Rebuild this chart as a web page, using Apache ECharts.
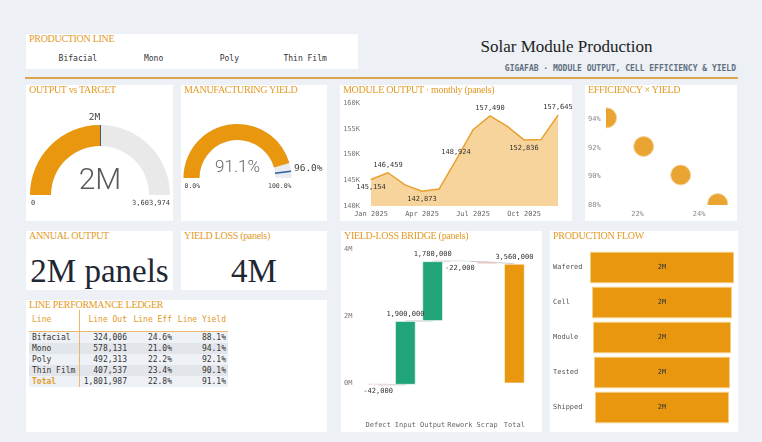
<!DOCTYPE html>
<html>
<head>
<meta charset="utf-8">
<script src="https://cdn.jsdelivr.net/npm/echarts@6/dist/echarts.min.js"></script>
<style>
  html, body { margin: 0; padding: 0; }
  body { width: 762px; height: 442px; background: #edf0f4; position: relative; overflow: hidden; font-family: 'DejaVu Sans Mono', monospace; }
  .card { position: absolute; background: #fff; }
  .ttl { position: absolute; left: 3px; top: -1px; font: 10px/12px 'Liberation Serif', serif; color: #e39a26; letter-spacing: -0.3px; white-space: nowrap; z-index: 2; }
  .chart { position: absolute; left: 0; top: 0; right: 0; bottom: 0; }
  #main-title { position: absolute; left: 380px; width: 373px; top: 37px; text-align: center; font: 17px/20px 'Liberation Serif', serif; color: #222; }
  #sub-title { position: absolute; right: 26px; top: 64px; font: bold 8px/10px 'DejaVu Sans Mono', monospace; color: #5f6f80; }
  #rule { position: absolute; left: 25px; top: 77px; width: 713px; height: 1.5px; background: #dba64a; }
  #pl-items { position: absolute; left: 14px; width: 303px; top: 20px; display: flex; }
  #pl-items span { flex: 1; text-align: center; font: 8px/10px 'DejaVu Sans Mono', monospace; color: #333; }
  .big { position: absolute; left: 0; right: 0; top: 20px; text-align: center; font: 33px/40px 'Liberation Serif', serif; color: #1e2833; }
  #ledger { position: absolute; left: 3px; top: 10px; border-collapse: collapse; table-layout: fixed; font: 8px/11px 'DejaVu Sans Mono', monospace; color: #333; }
  #ledger th { color: #e39a26; font-weight: normal; height: 18px; padding: 0 2px 3px 0; text-align: right; border-bottom: 1px solid #ebb865; vertical-align: middle; }
  #ledger td { height: 11px; line-height: 11px; padding: 0 2px 0 0; text-align: right; white-space: nowrap; }
  #ledger th:first-child, #ledger td:first-child { text-align: left; padding-left: 3px; border-right: 1px solid #ebb865; }
  #ledger tr:nth-child(odd) td { background: #eef1f5; }
  #ledger tr:nth-child(even) td { background: #e2e5e9; }
  #ledger tr.tot td:first-child { color: #e39a26; font-weight: bold; }
</style>
</head>
<body>

<div class="card" style="left:26px;top:34px;width:332px;height:35px;">
  <div class="ttl">PRODUCTION LINE</div>
  <div id="pl-items"></div>
</div>
<div id="main-title">Solar Module Production</div>
<div id="sub-title">GIGAFAB · MODULE OUTPUT, CELL EFFICIENCY &amp; YIELD</div>
<div id="rule"></div>

<div class="card" style="left:26px;top:85px;width:147px;height:136px;">
  <div id="g1" class="chart"></div><div class="ttl">OUTPUT vs TARGET</div>
</div>
<div class="card" style="left:181px;top:85px;width:146px;height:136px;">
  <div id="g2" class="chart"></div><div class="ttl">MANUFACTURING YIELD</div>
</div>
<div class="card" style="left:340px;top:85px;width:232px;height:136px;">
  <div id="monthly" class="chart"></div><div class="ttl">MODULE OUTPUT · monthly (panels)</div>
</div>
<div class="card" style="left:585px;top:85px;width:152px;height:136px;">
  <div id="scatter" class="chart"></div><div class="ttl">EFFICIENCY × YIELD</div>
</div>

<div class="card" style="left:26px;top:231px;width:147px;height:59px;">
  <div class="ttl">ANNUAL OUTPUT</div><div class="big" id="annual"></div>
</div>
<div class="card" style="left:181px;top:231px;width:146px;height:59px;">
  <div class="ttl">YIELD LOSS (panels)</div><div class="big" id="loss"></div>
</div>
<div class="card" style="left:26px;top:300px;width:301px;height:132px;">
  <div class="ttl">LINE PERFORMANCE LEDGER</div>
  <table id="ledger">
    <colgroup><col style="width:50px"><col style="width:50px"><col style="width:45px"><col style="width:54px"></colgroup>
    <thead><tr><th>Line</th><th>Line Out</th><th>Line Eff</th><th>Line Yield</th></tr></thead>
    <tbody id="ledger-body"></tbody>
  </table>
</div>
<div class="card" style="left:341px;top:231px;width:201px;height:201px;">
  <div id="bridge" class="chart"></div><div class="ttl">YIELD-LOSS BRIDGE (panels)</div>
</div>
<div class="card" style="left:550px;top:231px;width:188px;height:201px;">
  <div id="flow" class="chart"></div><div class="ttl">PRODUCTION FLOW</div>
</div>

<script>
// production lines
const productionLines = ['Bifacial', 'Mono', 'Poly', 'Thin Film'];
const lineOut = [324006, 578131, 492313, 407537];
const lineEff = [24.6, 21.0, 22.2, 23.4];
const lineYield = [88.1, 94.1, 92.1, 90.1];

const outputTarget = 3603974;
const yieldTarget = 96.0;
const yieldLossPanels = 3560000;

// monthly output
const months = ['Jan 2025', 'Feb 2025', 'Mar 2025', 'Apr 2025', 'May 2025', 'Jun 2025',
  'Jul 2025', 'Aug 2025', 'Sep 2025', 'Oct 2025', 'Nov 2025', 'Dec 2025'];
const monthlyOut = [145154, 146459, 144106, 142873, 143300, 148924, 154800, 157490, 155500, 152836, 152900, 157645];

// bridge
const bridgeCats = ['Defect', 'Input', 'Output', 'Rework', 'Scrap', 'Total'];
const bridgeDeltas = [-42000, 1900000, 1780000, -22000, -56000];

// flow
const flowStages = ['Wafered', 'Cell', 'Module', 'Tested', 'Shipped'];
const flowValues = [1936000, 1882000, 1855000, 1828000, 1801987];

const ORANGE = '#e8970f';
const MONO = "'DejaVu Sans Mono', monospace";
// pointer shape that only fills the outer 30% of the radius
const MARK = 'path://M0 0L2 0L2 30L0 30Z M0 100L2 100L0 100Z';

const fmtM = v => Math.round(v / 1e6) + 'M';
const fmtInt = v => v.toLocaleString('en-US');
const sum = a => a.reduce((s, v) => s + v, 0);
const mean = a => sum(a) / a.length;

const totalOut = sum(lineOut);
const avgEff = mean(lineEff);
const avgYield = mean(lineYield);

// html bits
document.getElementById('pl-items').innerHTML = productionLines.map(n => `<span>${n}</span>`).join('');
document.getElementById('annual').textContent = fmtM(totalOut) + ' panels';
document.getElementById('loss').textContent = fmtM(yieldLossPanels);
let rows = productionLines.map((n, i) =>
  `<tr><td>${n}</td><td>${fmtInt(lineOut[i])}</td><td>${lineEff[i].toFixed(1)}%</td><td>${lineYield[i].toFixed(1)}%</td></tr>`);
rows.push(`<tr class="tot"><td>Total</td><td>${fmtInt(totalOut)}</td><td>${avgEff.toFixed(1)}%</td><td>${avgYield.toFixed(1)}%</td></tr>`);
document.getElementById('ledger-body').innerHTML = rows.join('');

const smallText = (x, y, text, align, size) => ({
  type: 'text', x, y,
  style: { text, fontSize: size, fontFamily: MONO, fill: '#444', align, verticalAlign: 'middle' }
});

// gauge: output vs target
const g1c = [74, 110], g1r = 70;
echarts.init(document.getElementById('g1')).setOption({
  animation: false,
  series: [{
    type: 'gauge', center: g1c, radius: g1r, startAngle: 180, endAngle: 0,
    min: 0, max: outputTarget,
    axisLine: { lineStyle: { width: 21, color: [[1, '#e9e9e9']] } },
    progress: { show: true, width: 21, itemStyle: { color: ORANGE } },
    splitLine: { show: false }, axisTick: { show: false }, axisLabel: { show: false },
    pointer: { show: true, icon: MARK, length: '100%', width: 2, itemStyle: { color: '#4b5662' } },
    anchor: { show: false },
    title: { offsetCenter: ['-8%', '-111%'], fontSize: 9.5, fontFamily: MONO, color: '#444' },
    detail: { offsetCenter: [0, '-20%'], fontSize: 30, fontWeight: 300, fontFamily: 'Roboto', color: '#5a5a5a', formatter: v => fmtM(v) },
    data: [{ value: totalOut, name: fmtM(totalOut) }]
  }],
  graphic: [
    smallText(g1c[0] - g1r + 1, g1c[1] + 8, '0', 'left', 7),
    smallText(g1c[0] + g1r, g1c[1] + 8, fmtInt(outputTarget), 'right', 7)
  ]
});

// gauge: manufacturing yield
const g2c = [56.5, 93], g2r = 54;
const g2base = {
  type: 'gauge', center: g2c, radius: g2r, startAngle: 180, endAngle: 0, min: 0, max: 100,
  splitLine: { show: false }, axisTick: { show: false }, axisLabel: { show: false },
  anchor: { show: false }, title: { show: false }
};
echarts.init(document.getElementById('g2')).setOption({
  animation: false,
  series: [
    Object.assign({}, g2base, {
      axisLine: { lineStyle: { width: 16, color: [[1, '#e8ebf0']] } },
      progress: { show: true, width: 16, itemStyle: { color: ORANGE } },
      pointer: { show: false },
      detail: { offsetCenter: [0, '-19%'], fontSize: 17, fontWeight: 300, fontFamily: 'Roboto', color: '#666', formatter: v => v.toFixed(1) + '%' },
      data: [{ value: avgYield }]
    }),
    Object.assign({}, g2base, {
      axisLine: { show: false },
      progress: { show: false },
      pointer: { show: true, icon: MARK, length: '100%', width: 1.5, itemStyle: { color: '#2f5f9e' } },
      detail: { offsetCenter: ['131%', '-18%'], fontSize: 9.5, fontWeight: 'normal', fontFamily: MONO, color: '#444', formatter: v => v.toFixed(1) + '%' },
      data: [{ value: yieldTarget }]
    })
  ],
  graphic: [
    smallText(g2c[0] - g2r + 1, g2c[1] + 8, '0.0%', 'left', 6.5),
    smallText(g2c[0] + g2r, g2c[1] + 8, '100.0%', 'right', 6.5)
  ]
});

// monthly output area
const isLow = i => (i === 0 || monthlyOut[i] < monthlyOut[i - 1]) &&
  (i === monthlyOut.length - 1 || monthlyOut[i] < monthlyOut[i + 1]);
echarts.init(document.getElementById('monthly')).setOption({
  animation: false,
  grid: { left: 31, right: 14, top: 18, bottom: 15 },
  xAxis: {
    type: 'category', data: months, boundaryGap: false,
    axisLine: { show: false }, axisTick: { show: false },
    axisLabel: { interval: 2, fontSize: 7, fontFamily: MONO, color: '#666', margin: 5 }
  },
  yAxis: {
    type: 'value', min: 140000, max: 160000, interval: 5000,
    axisLine: { show: false }, axisTick: { show: false }, splitLine: { show: false },
    axisLabel: { fontSize: 7, fontFamily: MONO, color: '#777', margin: 11, formatter: v => (v / 1000) + 'K' }
  },
  series: [{
    type: 'line', symbol: 'circle', symbolSize: 1, showSymbol: true,
    itemStyle: { color: '#e8a030' },
    lineStyle: { color: '#e8a030', width: 1.5 },
    areaStyle: { color: '#f6d49c', opacity: 1 },
    label: { fontSize: 7, fontFamily: MONO, color: '#333', formatter: p => fmtInt(p.value), distance: 4 },
    data: monthlyOut.map((v, i) => ({
      value: v,
      label: { show: i === 0 || i % 2 === 1, position: isLow(i) ? 'bottom' : 'top' }
    }))
  }]
});

// efficiency x yield scatter (custom circles so they clip at the grid edge)
echarts.init(document.getElementById('scatter')).setOption({
  animation: false,
  grid: { left: 21, right: 7, top: 20, bottom: 16 },
  xAxis: {
    type: 'value', min: 21, max: 25, interval: 1,
    axisLine: { show: false }, axisTick: { show: false }, splitLine: { show: false },
    axisLabel: { fontSize: 7, fontFamily: MONO, color: '#888', margin: 6, formatter: v => v % 2 === 0 ? v + '%' : '' }
  },
  yAxis: {
    type: 'value', min: 88, max: 95, interval: 1,
    axisLine: { show: false }, axisTick: { show: false }, splitLine: { show: false },
    axisLabel: { fontSize: 7, fontFamily: MONO, color: '#888', margin: 6, formatter: v => v % 2 === 0 ? v + '%' : '' }
  },
  series: [{
    type: 'custom', clip: true,
    encode: { x: 0, y: 1 },
    renderItem: (params, api) => {
      const p = api.coord([api.value(0), api.value(1)]);
      return {
        type: 'circle',
        shape: { cx: p[0], cy: p[1], r: 10 },
        style: { fill: '#e9a432', stroke: '#f6d39c', lineWidth: 1 }
      };
    },
    data: productionLines.map((n, i) => ({ name: n, value: [lineEff[i], lineYield[i]] }))
  }]
});

// yield-loss bridge (waterfall)
const bridgeTotal = sum(bridgeDeltas);
const bridgeBase = [], bridgeVal = [], bridgeCum = [];
let run = 0;
bridgeDeltas.forEach(d => { bridgeBase.push(run); bridgeVal.push(d); run += d; bridgeCum.push(run); });
bridgeBase.push(0); bridgeVal.push(bridgeTotal); bridgeCum.push(bridgeTotal);
const barColor = (v, i) => i === bridgeCats.length - 1 ? ORANGE : (v < 0 ? '#c4524b' : '#22a47a');
// a negative step right after another negative would collide with its label
const showBridgeLabel = (v, i) => !(v < 0 && i > 0 && bridgeVal[i - 1] < 0);

echarts.init(document.getElementById('bridge')).setOption({
  animation: false,
  grid: { left: 23.5, right: 14, top: 18, bottom: 15 },
  xAxis: {
    type: 'category', data: bridgeCats,
    axisLine: { show: false }, axisTick: { show: false },
    axisLabel: { interval: 0, fontSize: 7, fontFamily: MONO, color: '#666', margin: 5 }
  },
  yAxis: {
    type: 'value', min: -1000000, max: 4000000, interval: 1000000,
    axisLine: { show: false }, axisTick: { show: false }, splitLine: { show: false },
    axisLabel: { fontSize: 7, fontFamily: MONO, color: '#777', margin: 12, formatter: v => v % 2000000 === 0 ? (v / 1e6) + 'M' : '' }
  },
  series: [
    {
      type: 'line', step: 'end', symbol: 'none', z: 1, silent: true,
      lineStyle: { color: '#c9c9c9', width: 1 },
      data: bridgeCum
    },
    {
      type: 'bar', stack: 'w', stackStrategy: 'all', z: 2, silent: true,
      itemStyle: { color: 'transparent' },
      data: bridgeBase
    },
    {
      type: 'bar', stack: 'w', stackStrategy: 'all', z: 2, barCategoryGap: '24%',
      data: bridgeVal.map((v, i) => ({
        value: v,
        itemStyle: { color: barColor(v, i), borderColor: 'rgba(255,255,255,0.5)', borderWidth: 1 },
        label: {
          show: showBridgeLabel(v, i), position: v < 0 ? 'bottom' : 'top', distance: 3,
          fontSize: 7, fontFamily: MONO, color: '#333', formatter: () => fmtInt(v)
        }
      }))
    }
  ]
});

// production flow (centred bars)
const flowMax = Math.max(...flowValues);
echarts.init(document.getElementById('flow')).setOption({
  animation: false,
  grid: { left: 40, right: 4, top: 19, bottom: 7 },
  xAxis: { type: 'value', min: 0, max: flowMax, show: false },
  yAxis: {
    type: 'category', data: flowStages, inverse: true,
    axisLine: { show: false }, axisTick: { show: false },
    axisLabel: { align: 'left', margin: 37, fontSize: 7, fontFamily: MONO, color: '#555' }
  },
  series: [
    {
      type: 'bar', stack: 'f', silent: true, barCategoryGap: '10%',
      itemStyle: { color: 'transparent' },
      data: flowValues.map(v => (flowMax - v) / 2)
    },
    {
      type: 'bar', stack: 'f', barCategoryGap: '10%',
      itemStyle: { color: ORANGE, borderColor: '#f3cf85', borderWidth: 1 },
      label: { show: true, position: 'inside', fontSize: 7, fontFamily: MONO, color: '#333', formatter: p => fmtM(p.value) },
      data: flowValues
    }
  ]
});
</script>
</body>
</html>
